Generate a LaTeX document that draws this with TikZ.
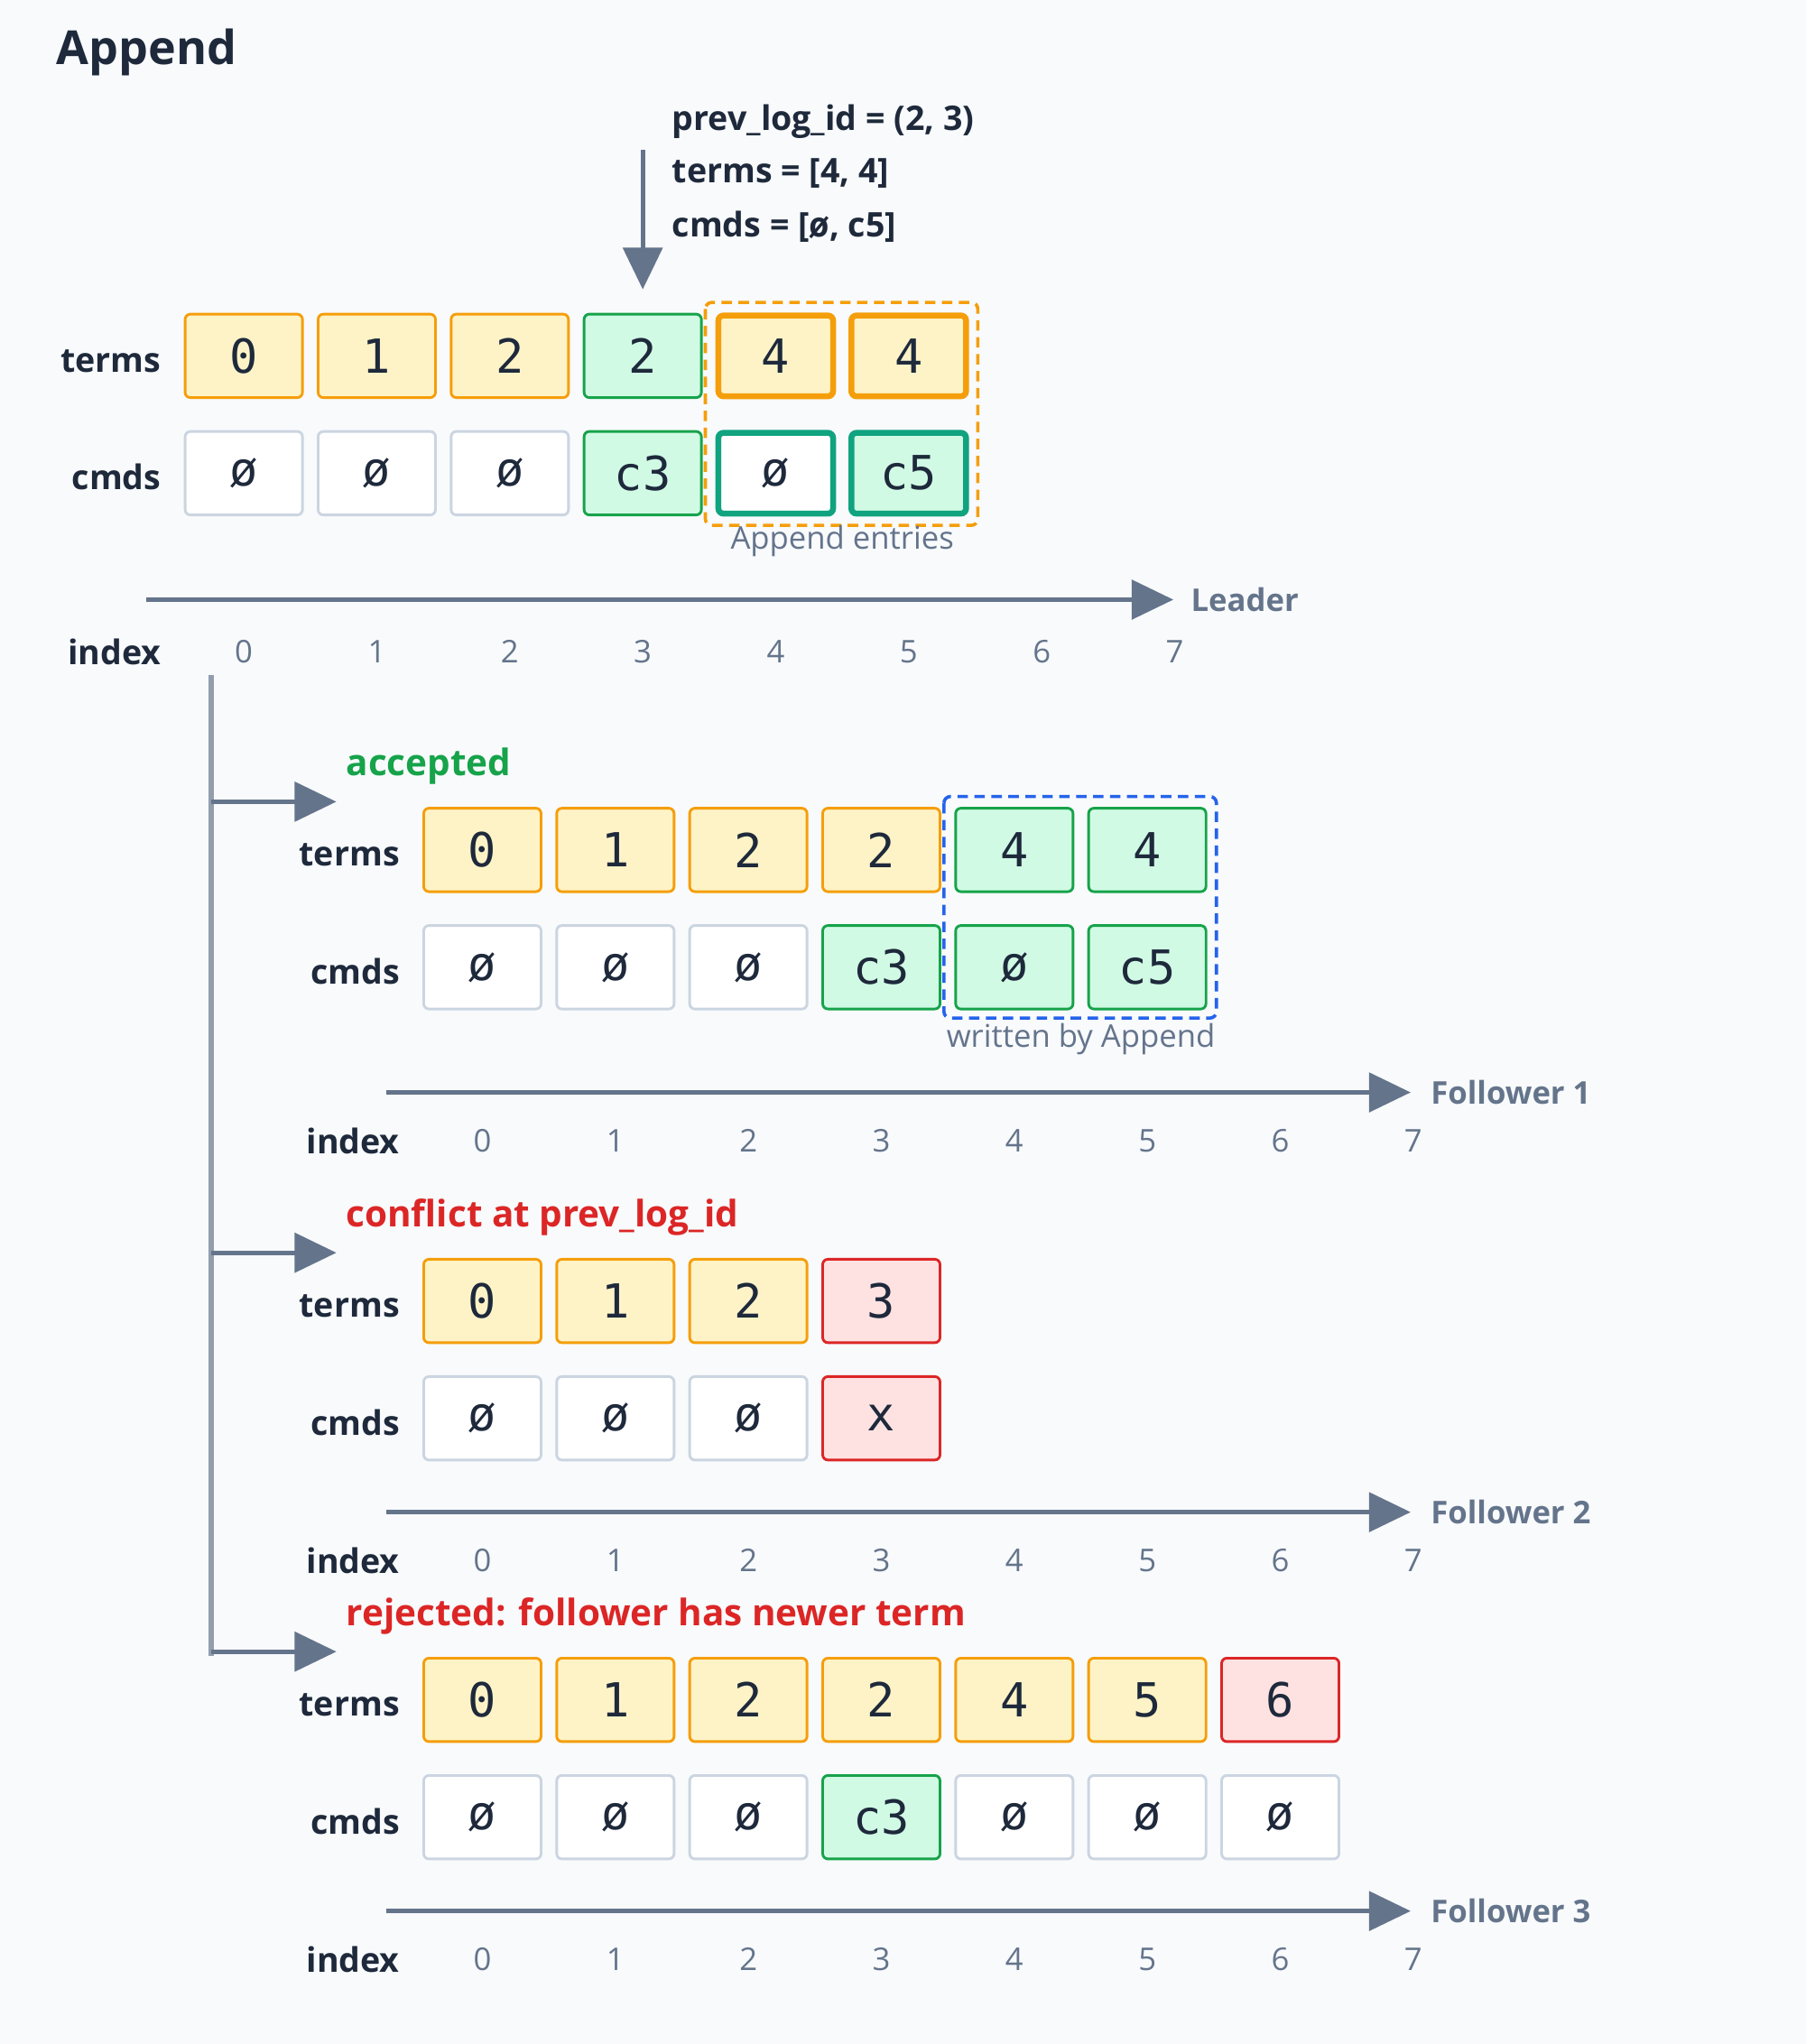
\documentclass[tikz,border=0pt]{standalone}
\usepackage{fontspec}
\setmainfont{Open Sans}
\newfontfamily\monof{DejaVu Sans Mono}
\usetikzlibrary{arrows.meta}
\definecolor{bg}{HTML}{F8FAFC}
\definecolor{ink}{HTML}{1E293B}
\definecolor{axis}{HTML}{64748B}
\definecolor{yf}{HTML}{FEF3C7}\definecolor{yb}{HTML}{F59E0B}
\definecolor{gf}{HTML}{D1FAE5}\definecolor{gb}{HTML}{16A34A}
\definecolor{rf}{HTML}{FEE2E2}\definecolor{rb}{HTML}{DC2626}
\definecolor{wb}{HTML}{CBD5E1}\definecolor{bb}{HTML}{2563EB}
\definecolor{tb}{HTML}{10A37F}
\tikzset{
 cell/.style={draw,rounded corners=4pt,minimum width=90pt,minimum height=64pt,line width=2pt,font=\monof\fontsize{36}{40}\selectfont,text=ink},
 cy/.style={cell,fill=yf,draw=yb}, cY/.style={cy,line width=4.5pt,minimum width=88pt,minimum height=62pt},
 cg/.style={cell,fill=gf,draw=gb}, cG/.style={cell,fill=gf,draw=tb,line width=4.5pt,minimum width=88pt,minimum height=62pt},
 cW/.style={cell,fill=white,draw=tb,line width=4.5pt,minimum width=88pt,minimum height=62pt},
 cw/.style={cell,fill=white,draw=wb}, cr/.style={cell,fill=rf,draw=rb},
 lab/.style={font=\bfseries\fontsize{26}{30}\selectfont,text=ink,anchor=east},
 idx/.style={font=\fontsize{24}{28}\selectfont,text=axis},
 ax/.style={draw=axis,line width=3.5pt,-{Triangle[length=32pt,width=30pt]}},
 axl/.style={font=\bfseries\fontsize{24}{28}\selectfont,text=axis,anchor=west},
 ttl/.style={font=\bfseries\fontsize{28}{32}\selectfont,anchor=west},
}
\begin{document}
\begin{tikzpicture}[x=1pt,y=-1pt]
\fill[bg] (0,0) rectangle (1385,1568);
\useasboundingbox (0,0) rectangle (1385,1568);
\node[font=\bfseries\fontsize{36}{40}\selectfont,text=ink,anchor=west] (title) at (40,40) {Append};
% leader
\node[lab] (lt) at (127,277) {terms};
\node[lab] (lc) at (127,366) {cmds};
\node[lab] (li) at (127,500) {index};
\foreach \i/\t/\s in {0/0/cy,1/1/cy,2/2/cy,3/2/cg,4/4/cY,5/4/cY}
  \node[\s] (L-t\i) at (187+102*\i,273) {\t};
\foreach \i/\t/\s in {0/ø/cw,1/ø/cw,2/ø/cw,3/c3/cg,4/ø/cW,5/c5/cG}
  \node[\s] (L-c\i) at (187+102*\i,363) {\t};
\foreach \i in {0,...,7} \node[idx] (L-i\i) at (187+102*\i,500) {\i};
\coordinate (la0) at (112,460); \coordinate (la1) at (900,460);
\draw[ax] (la0) -- (la1);
\node[axl] (lname) at (910,460) {Leader};
\draw[draw=yb,line width=2.5pt,rounded corners=5pt,dash pattern=on 8pt off 5pt] (541,232) rectangle (750,403);
\node[idx] (ae) at (646,415) {Append entries};
\coordinate (pa) at (493,115); \coordinate (pb) at (493,222);
\draw[ax] (pa) -- (pb);
\node[font=\bfseries\fontsize{26}{30}\selectfont,text=ink,anchor=west] (pl) at (512,93) {prev\_log\_id = (2, 3)};
\node[font=\bfseries\fontsize{26}{30}\selectfont,text=ink,anchor=west] (tl) at (512,133) {terms = [4, 4]};
\node[font=\bfseries\fontsize{26}{30}\selectfont,text=ink,anchor=west] (cl) at (512,174) {cmds = [{\monof ø}, c5]};
% tree
\coordinate (v0) at (162,518); \coordinate (v1) at (162,1270);
\draw[draw=axis!70,line width=3.5pt] (v0) -- (v1);
\foreach \k/\yy in {1/615,2/961,3/1267}{
  \coordinate (b\k a) at (162,\yy); \coordinate (b\k b) at (258,\yy);
  \draw[ax] (b\k a) -- (b\k b);}
\newcommand{\follower}[6]{%
  \node[lab] (#1lt) at (310,#2+4) {terms};
  \node[lab] (#1lc) at (310,#2+93) {cmds};
  \node[lab] (#1li) at (310,#2+#6+37) {index};
  \foreach \i/\t/\s in {#3} \node[\s] (#1t\i) at (370+102*\i,#2) {\t};
  \foreach \i/\t/\s in {#4} \node[\s] (#1c\i) at (370+102*\i,#2+90) {\t};
  \foreach \i in {0,...,7} \node[idx] (#1i\i) at (370+102*\i,#2+#6+37) {\i};
  \coordinate (#1a0) at (296,#2+#6); \coordinate (#1a1) at (1082,#2+#6);
  \draw[ax] (#1a0) -- (#1a1);
  \node[axl] (#1n) at (1094,#2+#6) {#5};
}
\follower{A}{652}{0/0/cy,1/1/cy,2/2/cy,3/2/cy,4/4/cg,5/4/cg}{0/ø/cw,1/ø/cw,2/ø/cw,3/c3/cg,4/ø/cg,5/c5/cg}{Follower 1}{186}
\node[ttl,text=gb] (acc) at (262,588) {accepted};
\draw[draw=bb,line width=2.5pt,rounded corners=5pt,dash pattern=on 8pt off 5pt] (724,611) rectangle (933,781);
\node[idx] (wba) at (829,797) {written by Append};
\follower{B}{998}{0/0/cy,1/1/cy,2/2/cy,3/3/cr}{0/ø/cw,1/ø/cw,2/ø/cw,3/x/cr}{Follower 2}{162}
\node[ttl,text=rb] (conf) at (262,934) {conflict at prev\_log\_id};
\follower{C}{1304}{0/0/cy,1/1/cy,2/2/cy,3/2/cy,4/4/cy,5/5/cy,6/6/cr}{0/ø/cw,1/ø/cw,2/ø/cw,3/c3/cg,4/ø/cw,5/ø/cw,6/ø/cw}{Follower 3}{162}
\node[ttl,text=rb] (rej) at (262,1240) {rejected: follower has newer term};
\end{tikzpicture}
\end{document}
